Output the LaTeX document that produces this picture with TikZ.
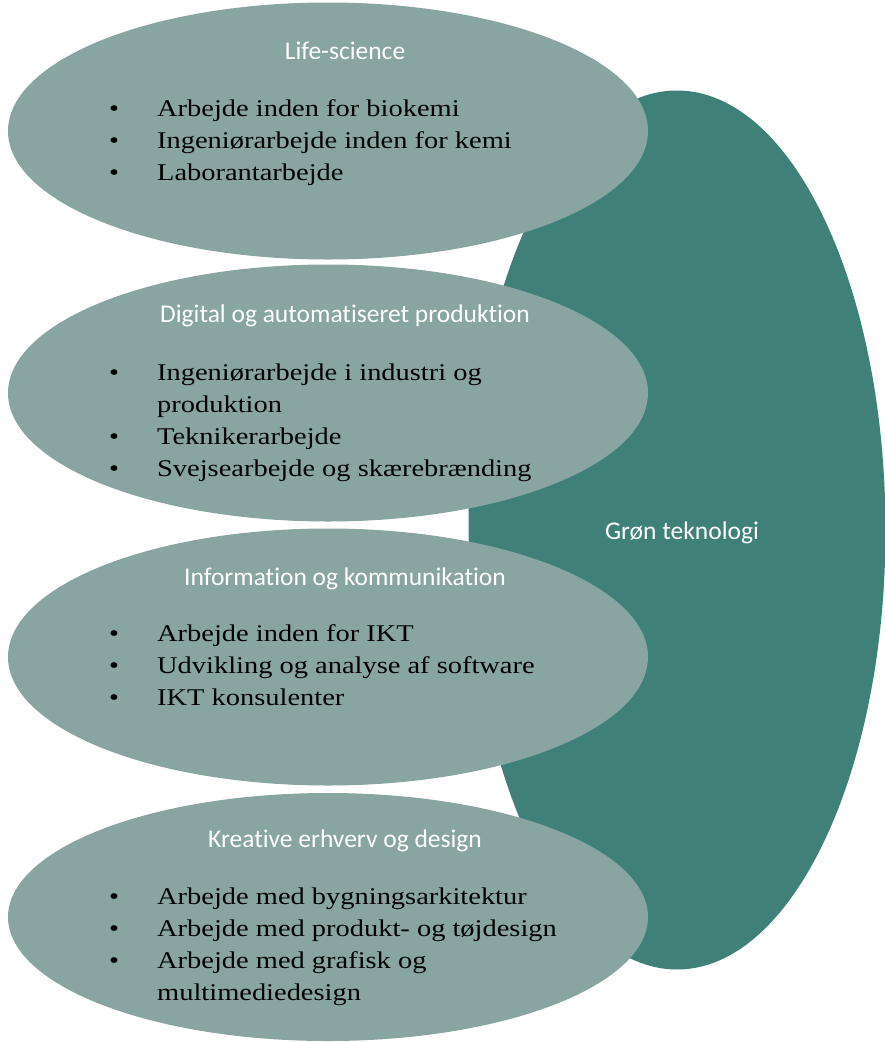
\documentclass[tikz,border=0pt]{standalone}
\usepackage{fontspec}
\setmainfont[FakeStretch=1.185]{Liberation Serif}
\newfontfamily\titlefont[Ligatures=NoCommon]{Carlito}
\usetikzlibrary{shapes.geometric}

\definecolor{lightteal}{HTML}{89A5A2}
\definecolor{darkteal}{HTML}{3F8178}
\newcommand{\bul}{\makebox[48pt][l]{\textbullet}}
\newcommand{\gap}{\hspace*{48pt}}

\begin{document}
\begin{tikzpicture}[x=1pt,y=-1pt,
    area/.style={ellipse,fill=lightteal,minimum width=640pt,minimum height=257pt,inner sep=0pt},
    greenarea/.style={ellipse,fill=darkteal,minimum width=417pt,minimum height=879pt,inner sep=0pt},
    title/.style={text=white,font=\titlefont\fontsize{25.5}{30}\selectfont,inner sep=0pt,anchor=base},
    items/.style={align=left,font=\fontsize{24}{32}\selectfont,inner sep=0pt,anchor=base west}]
    \useasboundingbox(0,0)rectangle(885,1042);

    \node[greenarea](gron)at(677,530){};
    \node[title]at(682,539){Grøn teknologi};

    % items nodes: anchor is the baseline of the last line
    \node[area](life)at(328,131){};
    \node[title](lifet)at(345,59){Life-science};
    \node[items](lifei)at(109,180){\bul Arbejde inden for biokemi\\
        \bul Ingeniørarbejde inden for kemi\\
        \bul Laborantarbejde};

    \node[area](digi)at(328,393){};
    \node[title](digit)at(345,322){Digital og automatiseret produktion};
    \node[items](digii)at(109,476){\bul Ingeniørarbejde i industri og\\
        \gap produktion\\
        \bul Teknikerarbejde\\
        \bul Svejsearbejde og skærebrænding};

    \node[area](info)at(328,657){};
    \node[title](infot)at(345,585){Information og kommunikation};
    \node[items](infoi)at(109,705){\bul Arbejde inden for IKT\\
        \bul Udvikling og analyse af software\\
        \bul IKT konsulenter};

    \node[area,minimum height=248pt](krea)at(328,917){};
    \node[title](kreat)at(345,847){Kreative erhverv og design};
    \node[items](kreai)at(109,1000){\bul Arbejde med bygningsarkitektur\\
        \bul Arbejde med produkt- og tøjdesign\\
        \bul Arbejde med grafisk og\\
        \gap multimediedesign};
\end{tikzpicture}
\end{document}
